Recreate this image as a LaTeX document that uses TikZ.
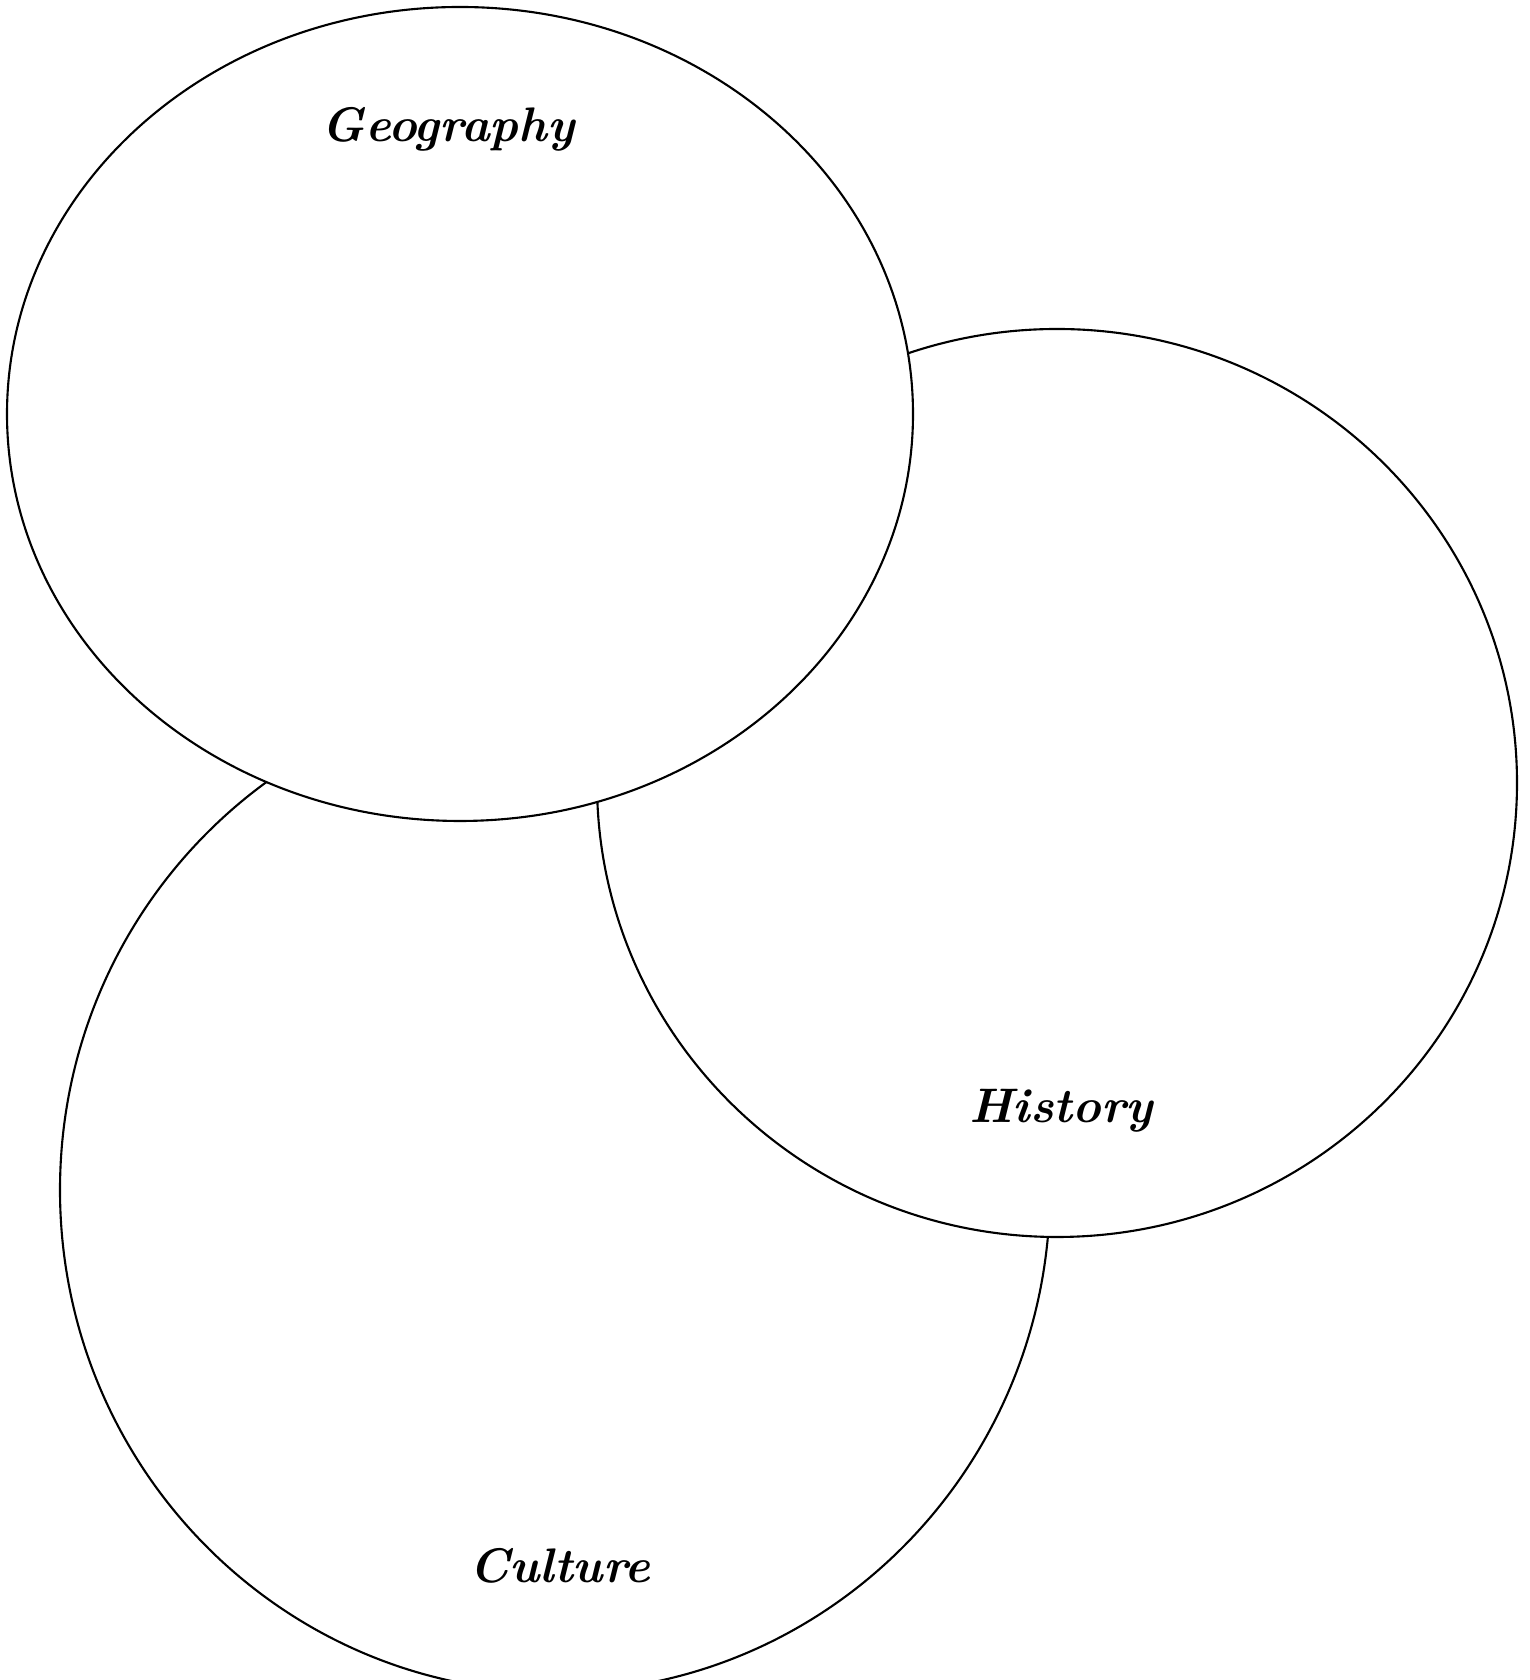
\documentclass[tikz,border=0pt]{standalone}
\usetikzlibrary{positioning}

\begin{document}
\begin{tikzpicture}[
    ring/.style={draw=black, line width=0.6pt, fill=white},
    topic/.style={font=\fontsize{13.8}{16}\selectfont\bfseries\itshape}
  ]
  \useasboundingbox (0,0) rectangle (15.3,16.8);

  % Circles, back to front
  \draw[ring] (5.55, 4.90) ellipse [x radius=4.95, y radius=5.02];
  \draw[ring] (10.57, 8.97) ellipse [x radius=4.60, y radius=4.54];
  \draw[ring] (4.60, 12.66) ellipse [x radius=4.53, y radius=4.07];

  % Labels
  \node[topic] (geo) at (4.48, 15.51) {Geography};
  \node[topic] (hist) at (10.61, 5.69) {History};
  \node[topic] (cult) at (5.60, 1.14) {Culture};
\end{tikzpicture}
\end{document}
